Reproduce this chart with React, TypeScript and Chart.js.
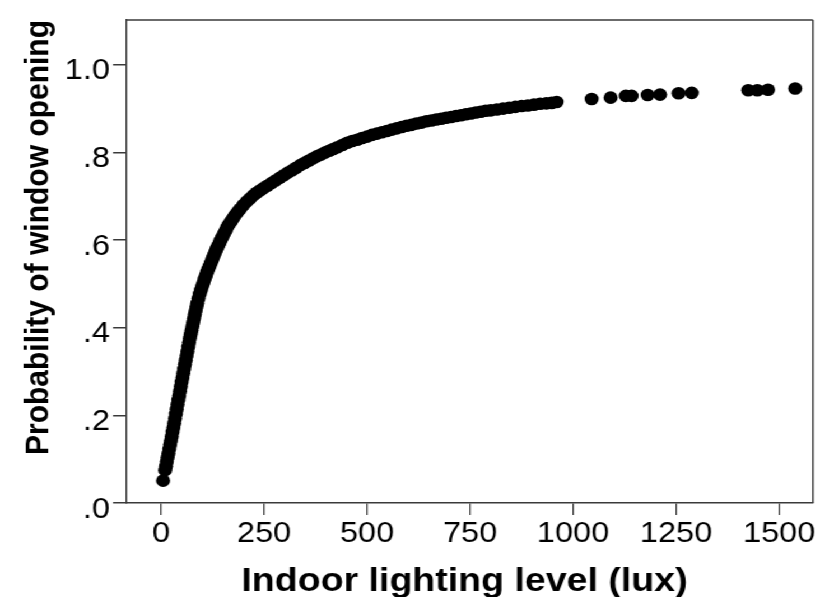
import React, { useEffect, useRef } from 'react';
import { Chart, registerables } from 'chart.js';

Chart.register(...registerables);

// ---- Data ----
// steep lower part of the curve
const steepLux = [5, 10, 12, 14, 16, 18, 20, 22, 24, 26, 28, 30, 32, 34, 36, 38, 40, 42, 44, 46, 48, 50, 52, 54, 56, 58, 60, 62, 64, 66, 68, 70, 72, 74, 76, 78, 80, 82, 84, 86, 88];
const steepProb = [0.051, 0.075, 0.084, 0.094, 0.104, 0.113, 0.123, 0.133, 0.142, 0.152, 0.162, 0.172, 0.182, 0.193, 0.203, 0.214, 0.225, 0.235, 0.245, 0.255, 0.266, 0.276, 0.286, 0.296, 0.306, 0.316, 0.326, 0.336, 0.346, 0.356, 0.366, 0.376, 0.385, 0.394, 0.403, 0.412, 0.421, 0.43, 0.439, 0.448, 0.456];

// knee of the curve
const kneeLux = [91, 94, 97, 100, 103, 106, 109, 112, 115, 118, 121, 124, 127, 130, 133, 136, 139, 142, 145, 149, 153, 157, 161, 165, 170, 175, 180, 186, 192];
const kneeProb = [0.467, 0.477, 0.486, 0.495, 0.503, 0.511, 0.519, 0.527, 0.534, 0.541, 0.548, 0.555, 0.562, 0.569, 0.576, 0.582, 0.588, 0.594, 0.6, 0.607, 0.615, 0.622, 0.63, 0.636, 0.643, 0.65, 0.657, 0.664, 0.671];

// bend towards the plateau
const bendLux = [200, 208, 216, 224, 232, 240, 248, 258, 268, 278, 288, 298, 308, 318, 328, 338, 348, 358, 368, 378, 388, 398, 408, 418, 428, 440, 452, 464, 476, 488, 500];
const bendProb = [0.68, 0.688, 0.695, 0.702, 0.708, 0.713, 0.718, 0.724, 0.73, 0.736, 0.742, 0.748, 0.754, 0.759, 0.765, 0.771, 0.776, 0.781, 0.786, 0.791, 0.795, 0.8, 0.804, 0.808, 0.812, 0.817, 0.822, 0.826, 0.829, 0.833, 0.836];

// dense plateau
const plateauLux = [512, 524, 536, 548, 560, 572, 584, 596, 608, 620, 632, 644, 656, 668, 680, 692, 704, 716, 728, 740, 752, 764, 776, 788, 800, 815, 830, 845, 860, 875, 890, 905, 920, 935, 948, 960];
const plateauProb = [0.84, 0.843, 0.846, 0.849, 0.852, 0.855, 0.858, 0.861, 0.863, 0.866, 0.868, 0.871, 0.873, 0.875, 0.877, 0.879, 0.881, 0.883, 0.885, 0.887, 0.889, 0.891, 0.893, 0.895, 0.896, 0.898, 0.9, 0.902, 0.904, 0.906, 0.907, 0.909, 0.911, 0.912, 0.913, 0.915];

// sparse high-lux observations
const sparseLux = [1045, 1091, 1128, 1142, 1181, 1211, 1256, 1288, 1425, 1447, 1473, 1539];
const sparseProb = [0.922, 0.925, 0.929, 0.929, 0.931, 0.932, 0.935, 0.936, 0.942, 0.942, 0.943, 0.946];

const xTickValues = [0, 250, 500, 750, 1000, 1250, 1500];
const yTickValues = [0, 0.2, 0.4, 0.6, 0.8, 1.0];
const yTickLabels = ['.0', '.2', '.4', '.6', '.8', '1.0'];

const xTitle = 'Indoor lighting level (lux)';
const yTitle = 'Probability of window opening';

// ---- layout ----
const CANVAS_W = 732;
const CANVAS_H = 597;
const STRETCH = 820 / CANVAS_W;
const FONT = '"Liberation Sans", Arial, Helvetica, sans-serif';
const INK = '#000';
const AXIS = '#3a3a3a';

export default function App() {
  const ref = useRef<HTMLCanvasElement>(null);

  useEffect(() => {
    const lx = [...steepLux, ...kneeLux, ...bendLux, ...plateauLux, ...sparseLux];
    const py = [...steepProb, ...kneeProb, ...bendProb, ...plateauProb, ...sparseProb];
    const points = lx.map((x, i) => ({ x, y: py[i] }));

    const framePlugin = {
      id: 'frameAndTitles',
      afterDraw(chart: any) {
        const { ctx, chartArea } = chart;
        ctx.save();
        ctx.strokeStyle = AXIS;
        ctx.lineWidth = 1.5;
        ctx.beginPath();
        ctx.moveTo(chartArea.left, chartArea.top);
        ctx.lineTo(chartArea.right, chartArea.top);
        ctx.stroke();
        ctx.lineWidth = 1.6 / STRETCH;
        ctx.beginPath();
        ctx.moveTo(chartArea.right, chartArea.top);
        ctx.lineTo(chartArea.right, chartArea.bottom);
        ctx.stroke();

        ctx.fillStyle = INK;
        ctx.font = `bold 33.5px ${FONT}`;
        ctx.textAlign = 'center';
        ctx.textBaseline = 'alphabetic';
        ctx.fillText(xTitle, 464.5 / STRETCH, 591);

        ctx.translate(48 / STRETCH, 237.5);
        ctx.rotate(-Math.PI / 2);
        ctx.font = `bold 30px ${FONT}`;
        ctx.fillText(yTitle, 0, 0);
        ctx.restore();
      },
    };

    const chart = new Chart(ref.current as HTMLCanvasElement, {
      type: 'scatter',
      data: {
        datasets: [
          {
            data: points,
            pointRadius: 6.3,
            pointHoverRadius: 6.3,
            pointBackgroundColor: INK,
            pointBorderWidth: 0,
            showLine: false,
          },
        ],
      },
      options: {
        animation: false,
        responsive: true,
        maintainAspectRatio: false,
        events: [],
        layout: { padding: { top: 7, right: CANVAS_W - 813 / STRETCH, bottom: 0, left: 0 } },
        plugins: { legend: { display: false }, tooltip: { enabled: false } },
        scales: {
          x: {
            type: 'linear',
            min: -85,
            max: 1582,
            afterBuildTicks: (s: any) => {
              s.ticks = xTickValues.map((v) => ({ value: v }));
            },
            afterFit: (s: any) => {
              s.height = CANVAS_H - 503;
            },
            grid: { display: true, drawOnChartArea: false, drawTicks: true, tickLength: 12, color: AXIS, lineWidth: 1.4 / STRETCH },
            border: { display: true, color: AXIS, width: 1.6 },
            ticks: {
              color: INK,
              font: { family: FONT, size: 29 },
              padding: 2,
              maxRotation: 0,
              autoSkip: false,
              callback: (v: any) => String(v),
            },
            title: { display: false },
          },
          y: {
            type: 'linear',
            min: 0,
            max: 1.102,
            afterBuildTicks: (s: any) => {
              s.ticks = yTickValues.map((v) => ({ value: v }));
            },
            afterFit: (s: any) => {
              s.width = 126 / STRETCH;
            },
            grid: { display: true, drawOnChartArea: false, drawTicks: true, tickLength: 13 / STRETCH, color: AXIS, lineWidth: 1.5 },
            border: { display: true, color: AXIS, width: 1.6 / STRETCH },
            ticks: {
              color: INK,
              font: { family: FONT, size: 29 },
              padding: 2.7,
              labelOffset: 6.5,
              autoSkip: false,
              callback: (v: any) => {
                const i = yTickValues.findIndex((t) => Math.abs(t - Number(v)) < 1e-6);
                return i >= 0 ? yTickLabels[i] : '';
              },
            },
            title: { display: false },
          },
        },
      },
      plugins: [framePlugin],
    });
    return () => chart.destroy();
  }, []);

  return (
    <div
      style={{
        position: 'absolute',
        left: 0,
        top: 0,
        width: CANVAS_W,
        height: CANVAS_H,
        transform: `scaleX(${STRETCH})`,
        transformOrigin: '0 0',
        background: '#fff',
      }}
    >
      <canvas ref={ref} />
    </div>
  );
}
